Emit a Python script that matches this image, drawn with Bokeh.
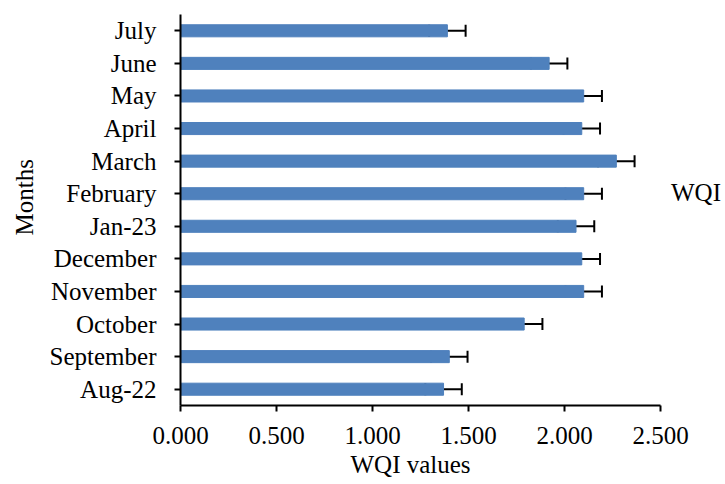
from bokeh.plotting import figure
from bokeh.models import (ColumnDataSource, Range1d, FactorRange, FixedTicker,
                          NumeralTickFormatter, Whisker, TeeHead, Legend, LegendItem, Title)
from bokeh.embed import file_html
from bokeh.resources import INLINE

months = ["Aug-22", "September", "October", "November", "December", "Jan-23",
          "February", "March", "April", "May", "June", "July"]
wqi = [1.37, 1.40, 1.79, 2.10, 2.09, 2.06, 2.10, 2.27, 2.09, 2.10, 1.92, 1.39]
err = [0.095, 0.095, 0.095, 0.095, 0.095, 0.095, 0.095, 0.095, 0.095, 0.095, 0.095, 0.095]
x_ticks = [0.0, 0.5, 1.0, 1.5, 2.0, 2.5]
series_name = "WQI"
x_title = "WQI values"
y_title = "Months"

source = ColumnDataSource(dict(
    month=months, wqi=wqi,
    lower=[v - e for v, e in zip(wqi, err)],
    upper=[v + e for v, e in zip(wqi, err)],
))

FONT = "Liberation Serif"
FS = "25px"

p = figure(y_range=FactorRange(factors=months), x_range=Range1d(0, 2.5),
           frame_width=480, frame_height=391,
           min_border_left=180, min_border_right=57, min_border_top=14, min_border_bottom=71,
           output_backend="svg", toolbar_location=None)

p.hbar(y="month", right="wqi", height=0.37, source=source,
       fill_color="#4F81BD", line_color="#4F81BD")

w = Whisker(source=source, base="month", lower="lower", upper="upper", dimension="width",
            line_color="black", line_width=2,
            upper_head=TeeHead(size=12, line_width=2, line_color="black"),
            lower_head=TeeHead(size=12, line_width=2, line_color="black"))
p.add_layout(w)

# invisible key so that only the series name shows, as in the reference
dummy = p.hbar(y=[], right=[], height=0.37, fill_alpha=0, line_alpha=0)
legend = Legend(items=[LegendItem(label=series_name, renderers=[dummy])],
                location=(10, 198), padding=0, margin=0, spacing=0,
                glyph_width=1, glyph_height=1, label_standoff=0,
                label_text_font=FONT, label_text_font_size=FS, label_text_color="black",
                border_line_color=None, background_fill_alpha=0)
p.add_layout(legend, "right")

p.outline_line_color = None
p.xgrid.grid_line_color = None
p.ygrid.grid_line_color = None

p.xaxis.ticker = FixedTicker(ticks=x_ticks)
p.xaxis.formatter = NumeralTickFormatter(format="0.000")
p.xaxis.minor_tick_line_color = None

for ax in (p.xaxis, p.yaxis):
    ax.axis_line_color = "black"
    ax.axis_line_width = 2
    ax.major_tick_line_color = "black"
    ax.major_tick_line_width = 2
    ax.major_tick_out = 6
    ax.major_tick_in = 0
    ax.major_label_text_font = FONT
    ax.major_label_text_font_size = FS
    ax.major_label_text_color = "black"

p.xaxis.major_label_standoff = 15
p.yaxis.major_label_standoff = 18

# axis titles, placed off-centre as in the reference
xt = Title(text=x_title, align="left", offset=170, standoff=4,
           text_font=FONT, text_font_size=FS, text_font_style="normal", text_color="black")
p.add_layout(xt, "below")
yt = Title(text=y_title, align="left", offset=170, standoff=17,
           text_font=FONT, text_font_size=FS, text_font_style="normal", text_color="black")
p.add_layout(yt, "left")

open("out.html", "w").write(file_html(p, INLINE))
